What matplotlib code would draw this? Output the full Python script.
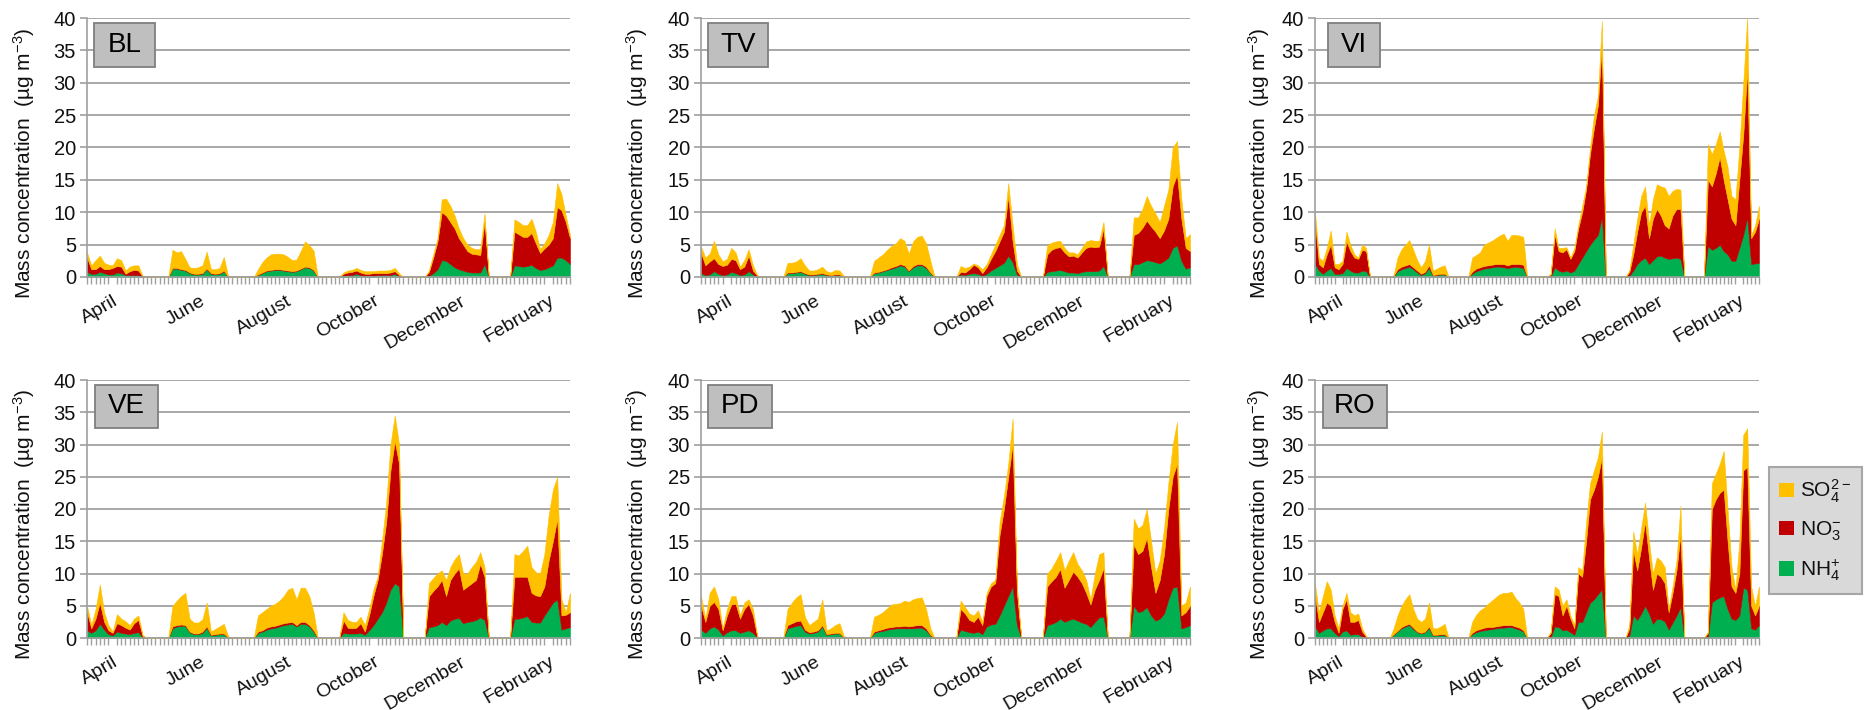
import matplotlib
matplotlib.use("Agg")
import matplotlib.pyplot as plt
import matplotlib.dates as mdates
from matplotlib.patches import Rectangle, Patch
from matplotlib.transforms import offset_copy
import pandas as pd
import numpy as np

plt.rcParams['font.family'] = ['Liberation Sans', 'DejaVu Sans']
plt.rcParams['mathtext.default'] = 'regular'

# ---------------- data ----------------
sample_dates = pd.date_range('2011-03-14', periods=114, freq='3D')
campaign_starts = ['2011-03-14', '2011-05-13', '2011-07-12',
                   '2011-09-10', '2011-11-09', '2012-01-08']
month_ticks = ['2011-04-01', '2011-06-01', '2011-08-01',
               '2011-10-01', '2011-12-01', '2012-02-01']
month_labels = ['April', 'June', 'August', 'October', 'December', 'February']
sites = ['BL', 'TV', 'VI', 'VE', 'PD', 'RO']
species_labels = [r'SO$_4^{2-}$', r'NO$_3^{-}$', r'NH$_4^{+}$']

BL_NH4 = [[0.8, 0.5, 0.5, 0.8, 0.6, 0.4, 0.4, 0.7, 0.6, 0.3, 0.3, 0.3, 0.3, 0.0],
          [1.3, 1.3, 1.1, 1.0, 0.6, 0.4, 0.4, 0.5, 1.2, 0.5, 0.4, 0.5, 0.9, 0.0],
          [0.3, 0.6, 0.9, 1.0, 1.1, 1.1, 1.0, 0.9, 0.8, 0.9, 1.2, 1.5, 1.4, 1.0],
          [0.2, 0.3, 0.3, 0.5, 0.3, 0.2, 0.2, 0.2, 0.3, 0.3, 0.3, 0.3, 0.5, 0.1],
          [0.2, 0.6, 1.2, 2.6, 2.5, 2.0, 1.5, 1.2, 1.0, 0.8, 0.7, 0.7, 0.7, 2.0],
          [1.8, 1.7, 1.6, 1.7, 1.9, 1.4, 1.1, 1.2, 1.5, 1.8, 3.0, 3.0, 2.6, 2.0]]
BL_NO3 = [[2.2, 0.7, 0.7, 0.9, 0.6, 0.8, 1.0, 1.0, 1.0, 0.2, 0.6, 0.8, 0.7, 0.1],
          [0.1, 0.1, 0.1, 0.1, 0.1, 0.1, 0.1, 0.1, 0.1, 0.1, 0.1, 0.1, 0.1, 0.0],
          [0.1, 0.1, 0.1, 0.1, 0.1, 0.1, 0.1, 0.1, 0.1, 0.1, 0.1, 0.1, 0.1, 0.1],
          [0.3, 0.4, 0.5, 0.5, 0.4, 0.3, 0.3, 0.4, 0.3, 0.3, 0.3, 0.4, 0.4, 0.2],
          [0.6, 2.4, 4.3, 7.4, 7.0, 6.5, 6.0, 4.8, 4.0, 3.2, 2.9, 2.8, 2.7, 6.5],
          [5.2, 4.9, 4.6, 4.5, 4.9, 3.8, 2.6, 3.2, 3.5, 4.2, 7.8, 7.3, 5.9, 4.0]]
BL_SO4 = [[0.8, 0.6, 1.4, 1.6, 1.0, 0.7, 0.4, 1.2, 1.0, 0.5, 0.7, 0.7, 0.8, 0.1],
          [2.8, 2.4, 2.8, 1.7, 0.8, 0.9, 1.0, 1.2, 2.6, 0.6, 0.7, 0.8, 2.1, 0.2],
          [0.8, 1.6, 2.0, 2.4, 2.4, 2.4, 2.4, 2.1, 1.7, 1.7, 2.7, 3.9, 3.4, 3.0],
          [0.2, 0.3, 0.3, 0.4, 0.4, 0.4, 0.4, 0.3, 0.4, 0.4, 0.4, 0.4, 0.5, 0.3],
          [0.2, 0.5, 0.5, 2.0, 2.6, 2.5, 2.0, 1.5, 1.0, 1.0, 0.9, 0.8, 0.9, 1.3],
          [1.9, 1.9, 1.8, 1.8, 2.2, 1.8, 0.6, 0.8, 1.5, 2.5, 3.7, 2.5, 1.0, 0.5]]

TV_NH4 = [[0.6, 0.3, 0.4, 0.9, 0.5, 0.3, 0.4, 0.8, 0.6, 0.3, 0.4, 0.9, 0.4, 0.0],
          [0.6, 0.6, 0.7, 0.8, 0.5, 0.3, 0.3, 0.4, 0.5, 0.3, 0.2, 0.3, 0.3, 0.0],
          [0.6, 0.7, 0.9, 1.1, 1.3, 1.5, 1.8, 1.6, 0.9, 1.5, 1.8, 1.8, 1.4, 0.6],
          [0.4, 0.3, 0.5, 0.6, 0.5, 0.2, 0.5, 1.0, 1.4, 1.8, 2.2, 3.3, 2.3, 0.4],
          [0.8, 0.9, 1.0, 1.1, 0.9, 0.7, 0.7, 0.6, 0.8, 0.9, 0.9, 0.9, 1.0, 1.7],
          [2.0, 2.0, 2.3, 2.6, 2.5, 2.3, 2.1, 2.5, 3.0, 4.5, 4.9, 2.5, 1.3, 1.5]]
TV_NO3 = [[3.1, 1.5, 2.0, 2.0, 1.5, 1.4, 1.5, 2.0, 2.0, 0.9, 1.2, 2.4, 0.6, 0.2],
          [0.1, 0.1, 0.1, 0.1, 0.1, 0.1, 0.1, 0.1, 0.1, 0.1, 0.1, 0.1, 0.1, 0.0],
          [0.1, 0.1, 0.1, 0.1, 0.2, 0.2, 0.2, 0.2, 0.1, 0.2, 0.2, 0.2, 0.2, 0.1],
          [0.4, 0.4, 0.7, 1.3, 1.0, 0.4, 1.0, 1.8, 2.6, 3.7, 4.8, 9.2, 3.2, 0.6],
          [2.7, 3.3, 3.5, 3.5, 2.9, 2.5, 2.6, 2.4, 3.0, 3.6, 3.8, 3.7, 3.7, 5.8],
          [4.5, 4.8, 5.3, 6.1, 5.3, 4.7, 3.9, 4.7, 6.0, 9.5, 10.9, 6.5, 3.2, 2.5]]
TV_SO4 = [[1.0, 1.2, 1.2, 2.7, 1.5, 0.7, 0.9, 1.7, 1.2, 0.4, 1.0, 1.0, 0.8, 0.1],
          [1.5, 1.5, 1.6, 2.0, 1.2, 0.6, 0.6, 0.7, 1.0, 0.5, 0.4, 0.7, 0.6, 0.2],
          [1.8, 2.2, 2.5, 3.0, 3.3, 3.5, 4.0, 3.8, 2.6, 3.8, 4.2, 4.4, 3.6, 1.8],
          [0.9, 0.7, 0.4, 0.2, 0.3, 0.6, 0.5, 0.7, 1.0, 1.0, 1.0, 2.0, 2.5, 1.0],
          [1.4, 1.1, 1.0, 1.0, 0.7, 0.6, 0.5, 0.5, 0.7, 1.0, 1.0, 1.0, 0.9, 1.0],
          [2.7, 2.4, 2.9, 3.8, 3.2, 2.8, 2.5, 3.8, 4.5, 6.0, 5.2, 3.0, 1.5, 2.6]]

VI_NH4 = [[2.0, 1.0, 0.5, 1.0, 1.4, 0.5, 0.5, 0.6, 1.4, 1.0, 0.7, 0.7, 1.0, 0.9],
          [0.1, 0.9, 1.2, 1.4, 1.6, 1.2, 0.7, 0.3, 0.6, 1.4, 0.2, 0.3, 0.4, 0.4],
          [0.5, 0.9, 1.1, 1.3, 1.4, 1.5, 1.6, 1.6, 1.5, 1.4, 1.5, 1.6, 1.5, 1.4],
          [0.1, 1.5, 1.0, 0.8, 1.0, 0.7, 1.0, 2.0, 3.0, 4.0, 5.0, 5.8, 6.5, 9.3],
          [0.2, 1.0, 2.0, 2.6, 3.0, 2.0, 2.6, 3.2, 3.3, 3.0, 2.8, 2.9, 3.0, 2.8],
          [4.8, 4.2, 4.5, 5.0, 4.0, 3.5, 2.5, 2.5, 4.5, 6.5, 9.2, 2.0, 2.1, 2.2]]
VI_NO3 = [[6.5, 1.0, 1.0, 2.5, 3.6, 1.0, 0.7, 1.4, 4.1, 3.0, 2.3, 2.1, 3.2, 3.1],
          [0.1, 0.3, 0.4, 0.4, 0.4, 0.3, 0.3, 0.2, 0.2, 0.4, 0.1, 0.1, 0.1, 0.1],
          [0.3, 0.4, 0.4, 0.4, 0.4, 0.4, 0.4, 0.4, 0.5, 0.4, 0.5, 0.4, 0.5, 0.5],
          [0.3, 5.0, 3.0, 3.0, 3.3, 2.1, 3.0, 5.5, 7.0, 9.5, 14.0, 17.2, 20.0, 26.7],
          [0.6, 2.5, 5.0, 7.4, 8.0, 4.0, 6.4, 7.3, 6.2, 5.0, 4.7, 6.6, 7.5, 7.7],
          [10.2, 9.8, 11.5, 13.5, 11.0, 8.5, 6.5, 5.5, 10.5, 15.5, 22.8, 4.0, 4.9, 6.8]]
VI_SO4 = [[1.5, 1.0, 1.0, 1.0, 2.2, 0.5, 0.8, 0.5, 1.5, 1.0, 0.5, 0.2, 0.8, 0.5],
          [0.1, 1.8, 2.7, 3.2, 3.7, 2.7, 1.6, 1.0, 1.7, 3.2, 0.7, 0.9, 1.1, 1.3],
          [2.2, 2.1, 2.3, 3.3, 3.5, 3.7, 4.0, 4.4, 4.7, 3.8, 4.5, 4.5, 4.4, 4.3],
          [0.1, 1.0, 0.5, 0.7, 0.3, 0.2, 0.5, 0.5, 1.0, 0.5, 1.0, 2.0, 1.5, 3.5],
          [0.2, 1.5, 2.0, 2.5, 3.0, 2.0, 3.0, 3.8, 4.5, 5.8, 5.0, 3.8, 3.1, 3.0],
          [5.5, 5.0, 4.5, 4.0, 4.5, 5.0, 3.5, 4.0, 5.0, 8.0, 8.0, 0.5, 1.0, 2.0]]

VE_NH4 = [[1.2, 0.8, 1.2, 2.2, 1.3, 0.6, 0.4, 1.0, 0.8, 0.7, 0.6, 0.8, 0.9, 0.1],
          [1.5, 1.8, 1.9, 1.9, 0.9, 0.6, 0.6, 0.8, 1.6, 0.4, 0.5, 0.6, 0.6, 0.1],
          [0.8, 1.0, 1.3, 1.5, 1.6, 1.8, 2.0, 2.1, 2.2, 1.8, 2.2, 2.2, 1.8, 1.0],
          [0.8, 0.7, 0.7, 0.7, 0.8, 0.5, 1.2, 2.0, 3.0, 4.0, 5.5, 7.5, 8.5, 8.0],
          [1.7, 1.8, 2.0, 2.5, 2.0, 2.7, 3.0, 3.1, 2.3, 2.5, 2.6, 2.8, 3.2, 2.8],
          [3.0, 3.0, 3.2, 3.4, 2.5, 2.4, 2.4, 3.5, 4.5, 5.5, 6.0, 1.3, 1.5, 1.7]]
VE_NO3 = [[2.8, 0.7, 1.8, 3.3, 1.2, 0.6, 0.4, 1.3, 1.2, 0.9, 0.7, 1.5, 1.9, 0.2],
          [0.3, 0.2, 0.2, 0.1, 0.1, 0.1, 0.1, 0.2, 0.2, 0.1, 0.1, 0.1, 0.1, 0.0],
          [0.2, 0.2, 0.3, 0.3, 0.3, 0.3, 0.3, 0.3, 0.3, 0.2, 0.3, 0.3, 0.2, 0.2],
          [1.9, 0.9, 0.8, 0.9, 1.5, 0.5, 2.3, 4.5, 6.0, 9.0, 12.5, 18.5, 22.0, 19.0],
          [4.8, 5.5, 6.0, 6.5, 4.5, 6.3, 7.0, 7.7, 5.2, 5.5, 5.9, 6.2, 8.3, 6.7],
          [6.5, 6.5, 6.3, 6.1, 4.5, 4.2, 4.1, 4.5, 7.5, 9.5, 12.5, 2.2, 2.1, 2.3]]
VE_SO4 = [[1.0, 0.5, 1.5, 2.8, 1.5, 0.8, 0.2, 1.4, 1.0, 1.0, 0.7, 0.7, 0.7, 0.2],
          [3.2, 3.8, 4.4, 5.0, 2.0, 1.7, 1.7, 1.9, 3.7, 0.5, 0.8, 1.1, 1.5, 0.2],
          [2.5, 2.8, 2.9, 3.2, 3.4, 3.7, 4.2, 5.1, 5.3, 4.0, 5.3, 5.3, 4.5, 2.8],
          [1.3, 1.2, 1.0, 0.9, 1.0, 1.0, 1.0, 1.0, 0.5, 2.0, 3.0, 4.0, 4.0, 3.0],
          [2.0, 2.0, 2.0, 1.5, 2.5, 2.0, 2.2, 2.2, 2.5, 2.0, 2.5, 2.8, 1.8, 1.5],
          [3.5, 3.3, 4.0, 4.8, 4.0, 3.6, 3.5, 5.0, 7.0, 8.0, 6.5, 2.5, 0.4, 3.0]]

PD_NH4 = [[1.3, 0.8, 1.5, 1.8, 1.3, 0.4, 0.9, 1.2, 1.2, 0.8, 1.0, 1.2, 0.8, 0.1],
          [1.5, 1.7, 1.9, 2.0, 1.0, 0.7, 0.8, 1.0, 1.8, 0.5, 0.6, 0.7, 0.7, 0.1],
          [0.8, 1.0, 1.1, 1.3, 1.4, 1.5, 1.5, 1.5, 1.5, 1.5, 1.6, 1.6, 1.2, 0.4],
          [1.3, 1.1, 0.9, 0.8, 1.0, 0.6, 1.8, 2.1, 2.2, 3.5, 5.0, 6.5, 8.0, 2.0],
          [2.0, 2.2, 2.5, 3.0, 2.5, 2.8, 3.0, 2.7, 2.4, 2.2, 1.7, 2.5, 3.2, 3.3],
          [5.0, 4.0, 4.2, 4.8, 3.5, 2.7, 3.0, 3.8, 6.0, 7.8, 8.0, 1.5, 1.7, 2.0]]
PD_NO3 = [[3.7, 1.7, 3.5, 3.8, 3.2, 0.8, 2.6, 4.0, 4.1, 2.2, 3.5, 4.1, 2.7, 0.1],
          [0.5, 0.6, 0.7, 0.7, 0.3, 0.2, 0.2, 0.2, 0.2, 0.1, 0.1, 0.1, 0.1, 0.0],
          [0.2, 0.2, 0.3, 0.3, 0.3, 0.3, 0.3, 0.4, 0.3, 0.4, 0.4, 0.4, 0.3, 0.1],
          [3.2, 2.7, 1.9, 1.7, 2.3, 1.4, 4.7, 5.9, 6.3, 12.5, 15.0, 18.5, 22.0, 5.0],
          [6.0, 6.6, 7.0, 7.7, 5.3, 6.2, 7.3, 6.8, 6.1, 4.8, 3.5, 5.0, 5.8, 7.5],
          [9.5, 9.0, 9.3, 10.7, 7.5, 4.3, 6.0, 9.2, 14.0, 17.2, 19.0, 2.0, 2.3, 3.0]]
PD_SO4 = [[1.5, 0.5, 2.0, 2.4, 1.5, 0.3, 1.0, 1.3, 1.2, 0.5, 1.0, 0.7, 1.0, 0.1],
          [2.5, 3.2, 3.7, 4.1, 2.0, 1.1, 1.5, 1.8, 4.0, 0.6, 0.8, 1.2, 1.5, 0.2],
          [2.3, 2.4, 2.6, 3.0, 3.5, 3.5, 3.6, 3.9, 3.8, 4.1, 4.2, 4.3, 3.0, 1.0],
          [1.3, 1.0, 1.0, 1.0, 1.0, 0.5, 0.5, 0.5, 0.5, 2.0, 2.0, 2.0, 4.0, 1.0],
          [2.0, 2.0, 2.5, 2.6, 2.7, 3.0, 3.0, 2.0, 2.0, 2.0, 0.8, 2.5, 4.0, 2.5],
          [4.0, 4.0, 4.0, 4.5, 4.0, 3.0, 3.0, 4.0, 4.0, 5.0, 6.5, 1.5, 1.5, 3.0]]

RO_NH4 = [[1.8, 0.8, 1.2, 1.5, 1.5, 0.8, 0.3, 1.0, 1.2, 0.5, 0.6, 0.6, 0.2, 0.0],
          [0.5, 1.0, 1.5, 1.8, 2.0, 1.4, 0.9, 0.7, 0.9, 1.6, 0.4, 0.4, 0.5, 0.5],
          [0.6, 0.9, 1.1, 1.2, 1.3, 1.4, 1.5, 1.6, 1.6, 1.7, 1.7, 1.5, 1.3, 1.0],
          [0.2, 1.8, 1.7, 1.2, 1.3, 0.9, 0.5, 2.5, 2.5, 4.0, 5.5, 6.0, 6.8, 7.5],
          [0.4, 3.5, 2.8, 3.8, 5.0, 3.8, 2.2, 3.0, 2.9, 2.6, 1.3, 2.4, 3.5, 4.8],
          [0.2, 5.5, 6.0, 6.3, 6.5, 4.5, 3.0, 2.8, 3.5, 7.8, 7.5, 1.5, 1.3, 2.0]]
RO_NO3 = [[4.7, 1.7, 2.8, 4.0, 3.5, 1.7, 0.5, 3.5, 4.8, 2.0, 1.9, 2.2, 0.8, 0.2],
          [0.1, 0.1, 0.2, 0.2, 0.2, 0.2, 0.1, 0.1, 0.1, 0.2, 0.1, 0.1, 0.1, 0.1],
          [0.2, 0.3, 0.3, 0.4, 0.4, 0.3, 0.3, 0.3, 0.4, 0.3, 0.3, 0.3, 0.3, 0.2],
          [0.6, 5.0, 4.8, 2.3, 3.7, 2.1, 1.0, 7.5, 7.0, 11.0, 16.0, 17.0, 18.2, 20.5],
          [1.1, 10.0, 7.7, 10.2, 13.0, 8.7, 5.3, 7.0, 6.6, 5.9, 2.7, 4.6, 7.0, 11.2],
          [0.6, 14.5, 15.5, 16.2, 16.5, 10.5, 5.0, 4.2, 6.5, 18.2, 19.0, 3.5, 2.2, 3.0]]
RO_SO4 = [[1.8, 1.5, 2.5, 3.3, 2.5, 1.0, 0.7, 0.5, 1.0, 1.5, 1.0, 1.0, 0.5, 0.1],
          [0.9, 2.4, 3.3, 4.0, 4.6, 2.9, 2.0, 1.7, 2.0, 3.7, 1.0, 1.0, 1.2, 1.6],
          [1.7, 2.4, 2.9, 3.1, 3.6, 4.1, 4.5, 4.9, 5.0, 5.0, 5.2, 4.4, 3.9, 3.3],
          [0.2, 1.2, 1.0, 1.5, 1.0, 0.5, 0.5, 1.0, 1.0, 3.0, 2.5, 3.0, 3.0, 4.0],
          [0.5, 3.0, 2.5, 3.0, 3.0, 2.5, 2.5, 2.5, 2.5, 2.5, 0.5, 1.0, 1.5, 4.5],
          [0.2, 4.0, 4.0, 4.5, 6.0, 5.0, 3.0, 0.5, 5.0, 5.5, 6.0, 3.0, 1.5, 3.0]]

DATA = {
    'BL': (BL_NH4, BL_NO3, BL_SO4), 'TV': (TV_NH4, TV_NO3, TV_SO4),
    'VI': (VI_NH4, VI_NO3, VI_SO4), 'VE': (VE_NH4, VE_NO3, VE_SO4),
    'PD': (PD_NH4, PD_NO3, PD_SO4), 'RO': (RO_NH4, RO_NO3, RO_SO4),
}

C_SO4, C_NO3, C_NH4 = '#FFC000', '#C00000', '#00B050'
GRID = '#A0A0A0'
TXT = '#111111'


def full_series(segments):
    s = pd.Series(0.0, index=sample_dates)
    for start, vals in zip(campaign_starts, segments):
        idx = pd.date_range(start, periods=len(vals), freq='3D')
        s.loc[idx] = vals
    return s.values


# ---------------- layout (pixels) ----------------
W, H = 1872, 710
fig = plt.figure(figsize=(W / 100, H / 100), dpi=100)
cols = [(87, 570), (701, 1190), (1315, 1759)]
rows = [(18, 277), (380, 638)]
ylabel_offset = [-50, -51, -43]
box_geom = {'BL': (7, 61), 'TV': (7, 60), 'VI': (13, 52),
            'VE': (8, 63), 'PD': (7, 64), 'RO': (8, 64)}

x_num = mdates.date2num(sample_dates.to_pydatetime())
tick_num = mdates.date2num(pd.to_datetime(month_ticks).to_pydatetime())

for k, site in enumerate(sites):
    r, c = divmod(k, 3)
    x0, x1 = cols[c]
    yt, yb = rows[r]
    ax = fig.add_axes([x0 / W, 1 - yb / H, (x1 - x0) / W, (yb - yt) / H])
    nh4, no3, so4 = (full_series(s) for s in DATA[site])
    ax.stackplot(x_num, nh4, no3, so4, colors=[C_NH4, C_NO3, C_SO4],
                 linewidth=0.4, edgecolor='face', zorder=2)

    ax.set_xlim(x_num[0], x_num[-1])
    ax.set_ylim(0, 40)
    ax.set_yticks(np.arange(0, 41, 5))
    ax.yaxis.grid(True, color=GRID, linewidth=1.3)
    ax.set_axisbelow(True)
    for sp in ['top', 'right']:
        ax.spines[sp].set_visible(False)
    for sp in ['left', 'bottom']:
        ax.spines[sp].set_color(GRID)
        ax.spines[sp].set_linewidth(1.2)
    ax.spines['bottom'].set_zorder(3)

    ax.set_xticks(tick_num)
    ax.set_xticklabels(month_labels, rotation=30, ha='right', va='top',
                       rotation_mode='anchor')
    ax.set_xticks(x_num, minor=True)
    ax.tick_params(axis='x', which='major', length=0, pad=11,
                   labelsize=14, labelcolor=TXT)
    ax.tick_params(axis='x', which='minor', length=5, width=1, color=GRID)
    ax.tick_params(axis='y', which='major', length=5, width=1.2, color=GRID,
                   labelsize=14.5, labelcolor=TXT, pad=3)

    ax.set_ylabel('Mass concentration  (\u00b5g m$^{\u22123}$)',
                  fontsize=15, color=TXT)
    trans = offset_copy(ax.transAxes, fig=fig, x=ylabel_offset[c], y=0,
                        units='dots')
    ax.yaxis.set_label_coords(0, 0.44, transform=trans)

    wpx, hpx = x1 - x0, yb - yt
    off, bw = box_geom[site]
    y_lo, y_hi = 32.5 / 40, 39.3 / 40
    ax.add_patch(Rectangle((off / wpx, y_lo), bw / wpx, y_hi - y_lo,
                           transform=ax.transAxes, facecolor='#BFBFBF',
                           edgecolor='#7F7F7F', linewidth=1.3, zorder=5,
                           clip_on=False))
    ax.text((off + bw / 2) / wpx, (y_lo + y_hi) / 2, site,
            transform=ax.transAxes, ha='center', va='center',
            fontsize=20, color='black', zorder=6)

handles = [Patch(facecolor=C_SO4), Patch(facecolor=C_NO3),
           Patch(facecolor=C_NH4)]
leg = fig.legend(handles, species_labels, loc='upper left',
                 bbox_to_anchor=(1769 / W, 1 - 467 / H),
                 bbox_transform=fig.transFigure, fontsize=15,
                 frameon=True, fancybox=False, framealpha=1,
                 facecolor='#D9D9D9', edgecolor='#A6A6A6',
                 handlelength=0.7, handleheight=0.7, handletextpad=0.3,
                 labelspacing=0.7, borderpad=0.5, borderaxespad=0)
leg.get_frame().set_linewidth(1.5)
for t in leg.get_texts():
    t.set_color(TXT)

fig.savefig('out.png', dpi=100)
